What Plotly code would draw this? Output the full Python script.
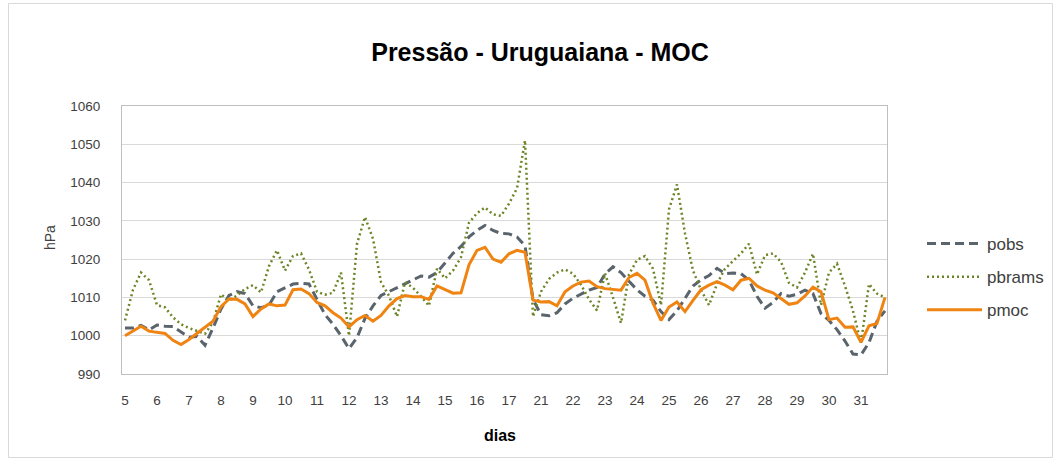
import plotly.graph_objects as go

# Dias da série (18 a 20 sem dados) e quatro registros por dia
dias = [5, 6, 7, 8, 9, 10, 11, 12, 13, 14, 15, 16, 17,
        21, 22, 23, 24, 25, 26, 27, 28, 29, 30, 31]
obs_por_dia = 4

pobs = [
    1002.0, 1002.0, 1002.7, 1001.5, 1002.8, 1002.5, 1002.4, 1001.0,
    999.6, 999.8, 997.5, 1002.0, 1007.0, 1010.5, 1011.5, 1011.0,
    1007.8, 1007.3, 1008.0, 1011.5, 1012.5, 1013.5, 1013.7, 1013.5,
    1009.5, 1005.5, 1003.0, 1000.0, 996.6, 999.5, 1004.5, 1007.8,
    1010.5, 1011.5, 1012.5, 1013.5, 1014.5, 1015.6, 1015.3, 1016.5,
    1019.0, 1021.5, 1023.3, 1025.8, 1027.5, 1028.8, 1027.5, 1026.7,
    1026.6, 1025.8, 1023.5, 1009.5, 1005.5, 1005.2, 1006.0, 1008.3,
    1009.8, 1010.8, 1011.9, 1012.6, 1016.1, 1018.0, 1016.5, 1014.2,
    1012.0, 1010.3, 1009.3, 1006.3, 1004.2, 1006.5, 1009.6, 1013.0,
    1014.6, 1015.7, 1017.6, 1016.2, 1016.4, 1016.2, 1014.5, 1010.3,
    1007.2, 1008.7, 1011.0, 1010.3, 1010.8, 1011.9, 1011.0, 1005.8,
    1004.0, 1001.6, 998.6, 995.2, 995.0, 998.2, 1003.8, 1006.5,
]

pbrams = [
    1004.0, 1012.0, 1016.5, 1014.5, 1008.0, 1007.4, 1004.8, 1003.0,
    1002.0, 1001.2, 1000.5, 1003.5, 1010.8, 1009.2, 1010.5, 1012.2,
    1013.2, 1011.3, 1018.2, 1022.3, 1017.0, 1020.8, 1021.5, 1017.3,
    1011.5, 1010.7, 1011.2, 1016.5, 1000.0, 1024.0, 1031.0, 1025.3,
    1014.0, 1010.4, 1005.0, 1014.0, 1012.5, 1010.3, 1007.8, 1017.5,
    1015.0, 1017.0, 1020.5, 1029.5, 1032.0, 1033.5, 1031.7, 1031.3,
    1034.5, 1038.5, 1051.0, 1005.0, 1011.5, 1014.8, 1016.5, 1017.3,
    1016.2, 1013.3, 1009.5, 1006.6, 1016.3, 1010.0, 1003.3, 1016.0,
    1019.8, 1020.8, 1017.5, 1008.0, 1033.0, 1039.5, 1026.7, 1017.0,
    1012.0, 1008.0, 1013.5, 1017.5, 1019.5, 1021.5, 1024.0, 1016.0,
    1021.0, 1021.5, 1019.3, 1013.8, 1012.6, 1016.5, 1021.4, 1008.0,
    1016.5, 1018.8, 1013.0, 1006.5, 998.0, 1013.5, 1011.0, 1010.0,
]

pmoc = [
    1000.0, 1001.3, 1002.5, 1001.2, 1000.8, 1000.6, 998.8, 997.7,
    999.0, 1000.7, 1002.2, 1003.8, 1007.6, 1009.6, 1009.5, 1008.3,
    1005.0, 1007.0, 1008.3, 1007.8, 1008.0, 1012.0, 1012.2, 1011.0,
    1008.7, 1007.8, 1006.0, 1004.6, 1002.3, 1004.2, 1005.3, 1003.8,
    1005.3, 1007.8, 1009.7, 1010.5, 1010.2, 1010.2, 1009.5, 1013.0,
    1012.0, 1011.1, 1011.2, 1018.5, 1022.3, 1023.1, 1020.0, 1019.2,
    1021.4, 1022.3, 1021.8, 1009.3, 1008.8, 1008.9, 1007.8, 1011.5,
    1013.0, 1014.0, 1014.3, 1012.8, 1012.3, 1012.2, 1011.9, 1015.2,
    1016.3, 1014.5, 1008.5, 1004.0, 1007.5, 1008.8, 1006.3, 1009.2,
    1012.0, 1013.2, 1014.1, 1013.2, 1012.0, 1014.5, 1015.0, 1013.0,
    1011.9, 1011.2, 1009.6, 1008.2, 1008.6, 1010.4, 1012.7, 1011.5,
    1004.2, 1004.6, 1002.2, 1002.3, 998.3, 1002.6, 1003.2, 1010.0,
]

FONT = "Liberation Sans, Arial, sans-serif"
W, H = 1061, 463
L, R, T, B = 122, 174, 106, 89
PW, PH = W - L - R, H - T - B


def px_x(x):
    return (x - L) / PW


def px_y(y):
    return (H - B - y) / PH


idx = list(range(len(pmoc)))
tick_pos = [k * obs_por_dia for k in range(len(dias))]

fig = go.Figure()
fig.add_trace(go.Scatter(
    x=idx, y=pobs, name="pobs", mode="lines", legendgroup="a",
    line=dict(color="#59646c", width=3, dash="9px,5px"),
))
fig.add_trace(go.Scatter(
    x=idx, y=pbrams, name="pbrams", mode="lines", legendgroup="b",
    line=dict(color="#6d8526", width=2.5, dash="2px,3px"),
))
fig.add_trace(go.Scatter(
    x=idx, y=pmoc, name="pmoc", mode="lines", legendgroup="c",
    line=dict(color="#ef8412", width=3),
))

fig.update_layout(
    width=W, height=H,
    margin=dict(l=L, r=R, t=T, b=B),
    paper_bgcolor="white", plot_bgcolor="white",
    font=dict(family=FONT, color="#404040", size=13.5),
    title=dict(
        text="<b>Pressão - Uruguaiana - MOC</b>",
        font=dict(size=25, color="black", family=FONT),
        x=540 / W, xanchor="center", xref="container",
        y=1 - 52 / H, yanchor="middle", yref="container",
    ),
    showlegend=True,
    legend=dict(
        x=px_x(922), xanchor="left", y=px_y(226), yanchor="top",
        font=dict(size=17, color="#404040"),
        itemwidth=55,
        tracegroupgap=8, bgcolor="rgba(0,0,0,0)",
    ),
    xaxis=dict(
        range=[-0.375, len(idx) - 0.75],
        tickvals=tick_pos, ticktext=[str(d) for d in dias],
        showgrid=False, zeroline=False,
        showline=True, linecolor="#bfbfbf", linewidth=1, mirror=True,
        ticks="", ticklabelstandoff=14,
        tickfont=dict(size=13.5, color="#404040"),
    ),
    yaxis=dict(
        range=[990, 1060], dtick=10, tick0=990,
        showgrid=True, gridcolor="#d9d9d9", gridwidth=1, zeroline=False,
        showline=True, linecolor="#bfbfbf", linewidth=1, mirror=True,
        ticks="", ticklabelstandoff=18,
        tickfont=dict(size=13.5, color="#404040"),
    ),
    annotations=[
        dict(text="hPa", xref="paper", yref="paper",
             x=px_x(50), y=px_y(238), textangle=-90, showarrow=False,
             xanchor="center", yanchor="middle",
             font=dict(size=14, color="#404040")),
        dict(text="<b>dias</b>", xref="paper", yref="paper",
             x=px_x(500), y=px_y(435), showarrow=False,
             xanchor="center", yanchor="middle",
             font=dict(size=16, color="black")),
    ],
    shapes=[
        dict(type="rect", xref="paper", yref="paper", layer="below",
             x0=px_x(8.5), x1=px_x(1052.5), y0=px_y(457.5), y1=px_y(3.5),
             line=dict(color="#d9d9d9", width=1)),
    ],
)

fig.write_html("out.html")
